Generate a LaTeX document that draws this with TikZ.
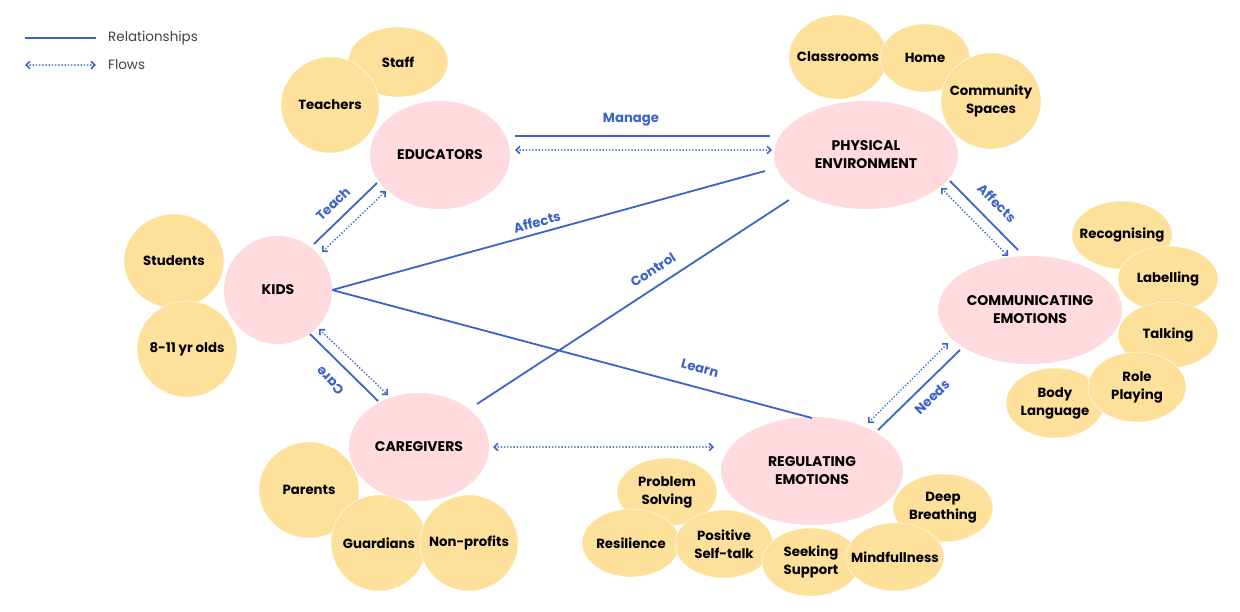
\documentclass[tikz,border=0pt]{standalone}
\usepackage{fontspec}
\setmainfont{Poppins}
\usetikzlibrary{arrows.meta,shapes.geometric}
\definecolor{pinkfill}{RGB}{255,218,223}
\definecolor{yelfill}{RGB}{253,225,155}
\definecolor{linkblue}{RGB}{59,99,200}
\definecolor{legtext}{RGB}{74,63,58}
\tikzset{
  hubtext/.style={font=\fontsize{14}{18}\selectfont\bfseries, align=center, text=black, inner sep=0pt},
  leaftext/.style={font=\fontsize{13.3}{18}\selectfont\bfseries, align=center, text=black, inner sep=0pt},
  hub/.style={ellipse, fill=pinkfill, inner sep=0pt},
  leaf/.style={ellipse, fill=yelfill, draw=white, line width=0.4pt, inner sep=0pt},
  rel/.style={draw=linkblue, line width=1.8pt},
  barb/.tip={Straight Barb[length=3.8pt,width=7.5pt,line width=1.6pt,line cap=butt]},
  flow/.style={draw=linkblue, line width=1.9pt, dash pattern=on 0pt off 3.2pt, line cap=round, barb-barb},
  lbl/.style={text=linkblue, font=\fontsize{13.2}{15}\selectfont\bfseries, inner sep=0pt},
  legtxt/.style={text=legtext, font=\fontsize{13.5}{15}\selectfont, anchor=west, inner sep=0pt}
}
\newcommand{\leafnode}[5]{\node[leaf, minimum width=#3pt, minimum height=#4pt, label={[leaftext]center:#5}] (#1) at (#2) {};}
\newcommand{\hubnode}[5]{\node[hub, minimum width=#3pt, minimum height=#4pt, label={[hubtext]center:#5}] (#1) at (#2) {};}
\begin{document}
\begin{tikzpicture}[x=1pt,y=-1pt]
\useasboundingbox (0,0) rectangle (1240,611);
\fill[white] (0,0) rectangle (1240,611);

% legend
\coordinate (lg1a) at (25,38); \coordinate (lg1b) at (96,38);
\coordinate (lg2a) at (25,65); \coordinate (lg2b) at (96,65);
\draw[rel] (lg1a) -- (lg1b);
\draw[flow] (lg2a) -- (lg2b);
\node[legtxt] (lgr) at (108,38) {Relationships};
\node[legtxt] (lgf) at (108,65) {Flows};

% yellow leaves
\leafnode{staff}{398,62}{100}{70}{Staff}
\leafnode{teachers}{330,105}{98}{96}{Teachers}
\leafnode{students}{174,261}{100}{94}{Students}
\leafnode{ages}{187,349}{100}{96}{8-11 yr olds}
\leafnode{class}{838,57}{98}{84}{Classrooms}
\leafnode{home}{925,58}{90}{68}{Home}
\leafnode{comm}{991,101}{100}{96}{Community\\Spaces}
\leafnode{recog}{1122,235}{100}{68}{Recognising}
\leafnode{label}{1168,279}{100}{66}{Labelling}
\leafnode{talk}{1168,335}{100}{66}{Talking}
\leafnode{body}{1055,403}{98}{70}{Body\\Language}
\leafnode{role}{1137,387}{98}{70}{Role\\Playing}
\leafnode{prob}{667,492}{100}{68}{Problem\\Solving}
\leafnode{resil}{631,543}{98}{68}{Resilience}
\leafnode{pos}{724,544}{98}{68}{Positive\\Self-talk}
\leafnode{deep}{943,508}{100}{68}{Deep\\Breathing}
\leafnode{seek}{811,562}{98}{68}{Seeking\\Support}
\leafnode{mind}{895,557}{98}{68}{Mindfullness}
\leafnode{parents}{309,490}{100}{96}{Parents}
\leafnode{guard}{379,543}{96}{96}{Guardians}
\leafnode{nonp}{469,543}{98}{96}{Non-profits}

% pink hubs
\hubnode{edu}{440,155}{140}{108}{EDUCATORS}
\hubnode{kids}{278,290}{108}{108}{KIDS}
\hubnode{phys}{866,155}{184}{108}{PHYSICAL\\ENVIRONMENT}
\hubnode{cemo}{1030,310}{184}{108}{COMMUNICATING\\EMOTIONS}
\hubnode{remo}{812,471}{182}{108}{REGULATING\\EMOTIONS}
\hubnode{care}{419,447}{140}{108}{CAREGIVERS}

% connector end points
\coordinate (ma) at (515,136); \coordinate (mb) at (770,136);
\coordinate (fa) at (515,150); \coordinate (fb) at (772,150);
\coordinate (ta) at (314,244); \coordinate (tb) at (377,183);
\coordinate (tfa) at (322,252); \coordinate (tfb) at (386,191);
\coordinate (ca) at (310,334); \coordinate (cb) at (378,401);
\coordinate (cfa) at (319,329); \coordinate (cfb) at (388,395);
\coordinate (aa) at (765,171);
\coordinate (la) at (812,418);
\coordinate (cta) at (477,404); \coordinate (ctb) at (789,200);
\coordinate (pa) at (950,181); \coordinate (pb) at (1018,250);
\coordinate (pfa) at (941,188); \coordinate (pfb) at (1008,256);
\coordinate (na) at (878,430); \coordinate (nb) at (960,350);
\coordinate (nfa) at (868,423); \coordinate (nfb) at (948,343);
\coordinate (gfa) at (493,447); \coordinate (gfb) at (714,447);

% relationships
\draw[rel] (ma) -- (mb);
\draw[rel] (ta) -- (tb);
\draw[rel] (ca) -- (cb);
\draw[rel] (kids.east) -- (aa);
\draw[rel] (kids.east) -- (la);
\draw[rel] (cta) -- (ctb);
\draw[rel] (pa) -- (pb);
\draw[rel] (na) -- (nb);

% flows
\draw[flow] (fa) -- (fb);
\draw[flow] (tfa) -- (tfb);
\draw[flow] (cfa) -- (cfb);
\draw[flow] (pfa) -- (pfb);
\draw[flow] (nfa) -- (nfb);
\draw[flow] (gfa) -- (gfb);

% labels
\node[lbl] (lmanage) at (631,120) {Manage};
\node[lbl, rotate=44] (lteach) at (333,204) {Teach};
\node[lbl, rotate=135] (lcare) at (330,381) {Care};
\node[lbl, rotate=15.4] (laff1) at (537,222) {Affects};
\node[lbl, rotate=33] (lcontrol) at (653,270) {Control};
\node[lbl, rotate=-15] (llearn) at (700,368) {Learn};
\node[lbl, rotate=-45] (laff2) at (997,203) {Affects};
\node[lbl, rotate=44] (lneeds) at (932,397) {Needs};
\end{tikzpicture}
\end{document}
